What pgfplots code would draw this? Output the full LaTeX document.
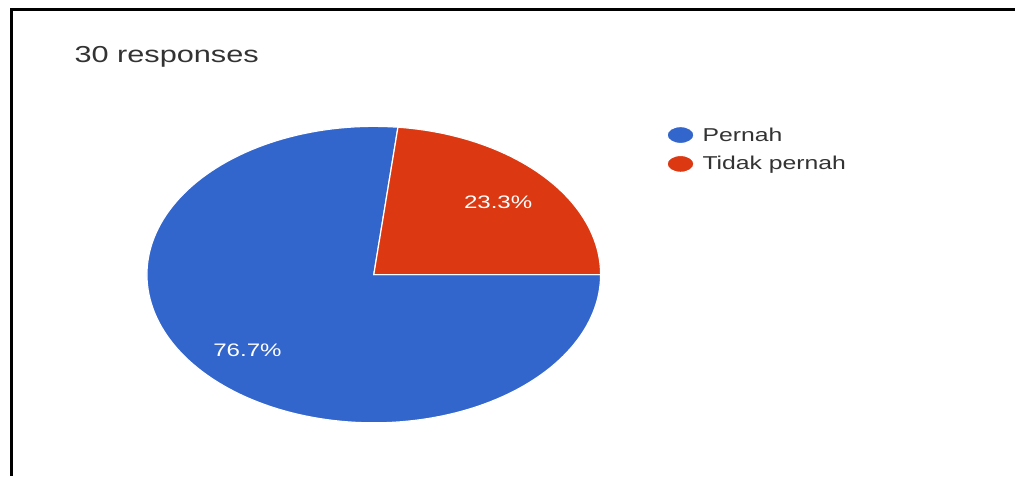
\documentclass[border=0pt]{standalone}
\usepackage{pgfplots}
\usepackage{pgfplotstable}
\pgfplotsset{compat=1.18}
\usepackage{fontspec}
\setmainfont[FakeStretch=1.33]{Liberation Sans}
\definecolor{gblue}{HTML}{3366CC}
\definecolor{gred}{HTML}{DC3912}
\definecolor{gtext}{HTML}{333333}

\pgfplotstableread[col sep=comma]{
label,value
Pernah,76.7
Tidak pernah,23.3
}\datatable

\begin{document}
\pgfplotstablegetelem{0}{value}\of\datatable \let\vA\pgfplotsretval
\pgfplotstablegetelem{1}{value}\of\datatable \let\vB\pgfplotsretval
\pgfmathsetmacro\angB{3.6*\vB}
\begin{tikzpicture}
\begin{axis}[
  scale only axis, width=1016bp, height=478bp,
  xmin=0, xmax=1016, ymin=0, ymax=478,
  axis lines=none, ticks=none, clip=false,
  legend cell align=left,
  legend style={at={(axis cs:666,352)}, anchor=north west, draw=none, fill=none,
    font=\fontsize{18.7bp}{22bp}\selectfont\color{gtext}, row sep=10bp,
    inner sep=0pt, nodes={inner sep=2bp}},
  legend image code/.code={\fill[#1] (13.5bp,0) ellipse (13.5bp and 8.5bp); \path (0,0) (33bp,0);},
]
\fill[white] (axis cs:0,0) rectangle (axis cs:1016,478);
\draw[black, line width=3bp] (axis cs:8,0) -- (axis cs:8,468) -- (axis cs:1016,468);

\addplot[fill=gblue, draw=white, line width=1.2bp, domain=\angB:360, samples=150, variable=\t]
  ({372+228*cos(\t)}, {202+149*sin(\t)}) -- (axis cs:372,202) -- cycle;
\addlegendentry{Pernah}
\addplot[fill=gred, draw=white, line width=1.2bp, domain=0:\angB, samples=50, variable=\t]
  ({372+228*cos(\t)}, {202+149*sin(\t)}) -- (axis cs:372,202) -- cycle;
\addlegendentry{Tidak pernah}

\node[anchor=base west, inner sep=0pt, text=gtext, font=\fontsize{23.2bp}{26bp}\selectfont] at (axis cs:71,415) {30 responses};
\node[text=white, inner sep=0pt, font=\fontsize{18.2bp}{20bp}\selectfont] at (axis cs:497,275) {23.3\%};
\node[text=white, inner sep=0pt, font=\fontsize{18.2bp}{20bp}\selectfont] at (axis cs:245,126) {76.7\%};
\end{axis}
\end{tikzpicture}
\end{document}
